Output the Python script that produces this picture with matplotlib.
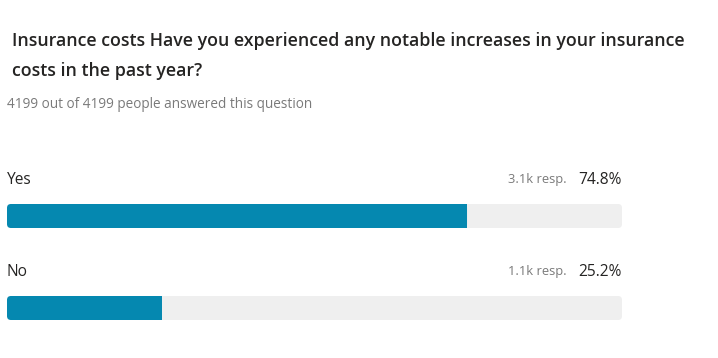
import matplotlib
matplotlib.use('Agg')
import matplotlib.pyplot as plt
from matplotlib.patches import FancyBboxPatch

title = 'Insurance costs Have you experienced any notable increases in your insurance\ncosts in the past year?'
subtitle = '4199 out of 4199 people answered this question'
answers = ['Yes', 'No']
percents = [74.8, 25.2]
responses = ['3.1k resp.', '1.1k resp.']

W, H = 718, 358
fill_color = '#0588b0'
track_color = '#efefef'
dark = '#252423'
grey = '#7a7a7a'
plt.rcParams['font.family'] = ['Open Sans', 'DejaVu Sans']

fig = plt.figure(figsize=(W / 100, H / 100), dpi=100)
fig.patch.set_facecolor('white')

# header texts, placed in pixel-ish figure coords
fig.text(12 / W, 1 - 32 / H, title, fontsize=12.8, fontweight='semibold', color=dark,
         va='top', ha='left', linespacing=1.85)
fig.text(7 / W, 1 - 104 / H, subtitle, fontsize=9.8, color=grey, va='center', ha='left')

# bar area: x 7..622 px, rows centred at y 216 and 308 px
ax = fig.add_axes([7 / W, 1 - 354 / H, 615 / W, 184 / H])
ax.set_xlim(0, 100)
ax.set_ylim(1.5, -0.5)
ax.axis('off')

bar_h = 24 / 92
px_x = 615 / 100   # px per x unit
px_y = 92          # px per y unit
r = 4 / px_x
asp = px_x / px_y

for i, (lab, p, resp) in enumerate(zip(answers, percents, responses)):
    track = FancyBboxPatch((0, i - bar_h / 2), 100, bar_h,
                           boxstyle='round,pad=0,rounding_size=%f' % r,
                           mutation_aspect=asp, fc=track_color, ec='none')
    ax.add_patch(track)
    fill = FancyBboxPatch((0, i - bar_h / 2), p, bar_h,
                          boxstyle='round,pad=0,rounding_size=%f' % r,
                          mutation_aspect=asp, fc=fill_color, ec='none')
    ax.add_patch(fill)
    # square off the right end of the filled part
    ax.barh(i, r * 1.2, left=p - r * 1.2, height=bar_h, color=fill_color, lw=0)

    ty = i - 36 / px_y
    ax.text(0, ty, lab, fontsize=11.2, color=dark, va='center', ha='left')
    ax.text(100, ty, '%.1f%%' % p, fontsize=11.2, color=dark, va='center', ha='right')
    ax.text(100 - 55 / px_x, ty, resp, fontsize=9.3, color=grey, va='center', ha='right')

fig.savefig('out.png', dpi=100, facecolor='white')
plt.close()
